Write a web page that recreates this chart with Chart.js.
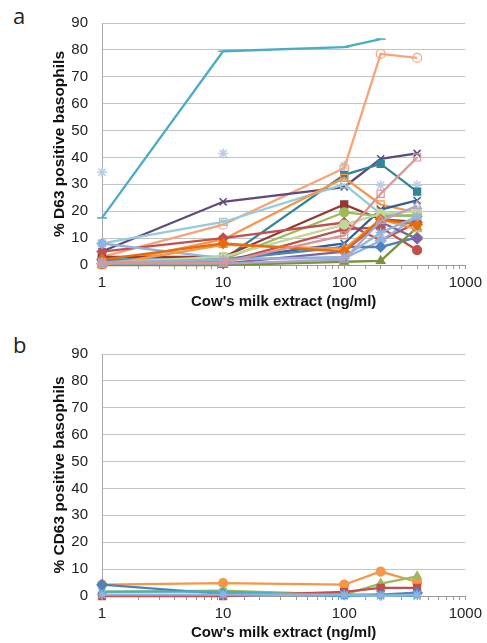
<!DOCTYPE html>
<html>
<head>
<meta charset="utf-8">
<script src="https://cdn.jsdelivr.net/npm/chart.js@4"></script>
<style>
  body { margin: 0; background: #fff; }
  #wrap { position: relative; width: 487px; height: 643px; }
  canvas { position: absolute; left: 0; }
  .tag { position: absolute; left: 13px; font: 22px "Open Sans", sans-serif; color: #222; line-height: 1; }
</style>
</head>
<body>
<div id="wrap">
  <div class="tag" style="top:4px">a</div>
  <canvas id="chartA" width="487" height="312" style="top:0"></canvas>
  <div class="tag" style="top:333px">b</div>
  <canvas id="chartB" width="487" height="312" style="top:331px"></canvas>
</div>
<script>
// x = allergen dose, y = % CD63+ basophils
const doses = [1, 10, 100, 200, 400];
const yTicks = [0, 10, 20, 30, 40, 50, 60, 70, 80, 90];

// panel a: milk-allergic patients
const valuesA = [
  [1, 1, 11, 26.5, 40],
  [0.5, 0.5, 2, 16.4, 22],
  [1, 2, 3, 12, 18],
  [2, 8, 5, 17, 15],
  [1, 3, 15, 19, 20],
  [0, 7.5, 6, 17, 13.3],
  [0, 0, 1.2, 1.5, 14],
  [0.5, 0.5, 5, 16, 9.7],
  [2, 2, 6.7, 6.7, 10.3],
  [8, 2.5, 2.5, 9, 18],
  [2, 2, 8, 20.6, 24],
  [2, 1, 13.3, 14, 5.5],
  [5, 10, 15.8, 9.1, 15.8],
  [1, 2, 19.6, 18.2, 18.5],
  [3, 3, 22.5, 17, 16],
  [0, 9.5, 32.4, 22.5, 19.5],
  [8, 16, 30, 19, 18],
  [1, 2, 33.5, 37.6, 27.3],
  [5, 23.5, 29, 39.5, 41.5],
  [3, 15, 36, 78.5, 77],
  [34.5, 41.5, 37, 29.7, 29.7],
  [17.5, 79.5, 81, 84, null]
];
const colorsA = ["#D99694", "#B3A2C7", "#95B3D7", "#E46C0A", "#C3D69B", "#F79646",
  "#77933C", "#8064A2", "#4F81BD", "#8EB4E3", "#376092", "#C0504D", "#C0504D",
  "#9BBB59", "#953735", "#F79646", "#93CDDD", "#31859C", "#604A7B", "#F7A47A",
  "#B9CDE5", "#4BACC6"];
const markersA = ["rect", "triangle", "star", "rectRot", "circle", "triangle",
  "triangle", "rectRot", "rectRot", "rectRot", "crossRot", "circle", "rectRot",
  "circle", "rect", "rect", "rect", "rect", "crossRot", "circle", "star", "line"];
const hollowA = [true, true, false, false, false, true, false, false, false, false, false,
  false, false, false, false, true, true, false, false, true, false, false];

// panel b: tolerant controls
const valuesB = [
  [0.5, 0.5, 0.5, 0, 0.5],
  [1.6, 1.6, 0, 0.5, 0],
  [4.2, 0.8, 0.5, 0.5, 1.2],
  [0, 0, 1.5, 3, 3],
  [1.5, 2, 0.5, 4.6, 7.3],
  [4.2, 4.8, 4.2, 9.1, 5.2]
];
const colorsB = ["#8EB4E3", "#4BACC6", "#4F81BD", "#C0504D", "#9BBB59", "#F79646"];
const markersB = ["star", "crossRot", "rectRot", "rect", "triangle", "circle"];

const font = "'Liberation Sans', Arial, sans-serif";

function makeSets(values, colors, markers, hollow) {
  return values.map((vals, i) => ({
    data: vals.map((v, j) => ({ x: doses[j], y: v })),
    borderColor: colors[i],
    backgroundColor: colors[i],
    pointBackgroundColor: hollow && hollow[i] ? "rgba(255,255,255,0)" : colors[i],
    pointBorderColor: colors[i],
    pointBorderWidth: markers[i] === "star" || markers[i] === "crossRot" || markers[i] === "line" ? 1.5 : 1.2,
    pointStyle: markers[i],
    pointRadius: markers[i] === "circle" ? 4.5 : 5,
    borderWidth: 2.3,
    showLine: colors[i] !== "#B9CDE5",
    tension: 0,
    clip: false,
  }));
}

function makeChart(el, datasets, yTitle) {
  return new Chart(el, {
    type: "line",
    data: { datasets: datasets },
    options: {
      responsive: false,
      animation: false,
      layout: { padding: { top: 17, right: 19, left: 0, bottom: 0 } },
      plugins: { legend: { display: false }, tooltip: { enabled: false } },
      scales: {
        x: {
          type: "logarithmic",
          min: 1,
          max: 1000,
          afterFit: (axis) => { axis.height = 47; },
          grid: { drawOnChartArea: false, drawTicks: true, tickLength: 4, color: "#999" },
          border: { color: "#999" },
          ticks: {
            autoSkip: false,
            maxRotation: 0,
            padding: 5,
            color: "#222",
            font: { family: font, size: 15 },
            callback: (v) => {
              const l = Math.log10(v);
              return Math.abs(l - Math.round(l)) < 1e-9 ? String(v) : "";
            },
          },
          title: {
            display: true,
            text: "Cow's milk extract (ng/ml)",
            color: "#111",
            font: { family: font, size: 15, weight: "bold" },
            padding: { top: 0, bottom: 1 },
          },
        },
        y: {
          min: 0,
          max: 90,
          afterFit: (axis) => { axis.width = 102; },
          afterBuildTicks: (axis) => { axis.ticks = yTicks.map((v) => ({ value: v })); },
          grid: { color: "#c4c4c4", drawTicks: false },
          border: { color: "#aaa" },
          ticks: { padding: 14, color: "#222", font: { family: font, size: 15 } },
          title: {
            display: true,
            text: yTitle,
            color: "#111",
            font: { family: font, size: 15.5, weight: "bold" },
            padding: { top: 50, bottom: 0 },
          },
        },
      },
    },
  });
}

makeChart(document.getElementById("chartA"),
  makeSets(valuesA, colorsA, markersA, hollowA), "% D63 positive basophils");
makeChart(document.getElementById("chartB"),
  makeSets(valuesB, colorsB, markersB, null), "% CD63 positive basophils");
</script>
</body>
</html>
